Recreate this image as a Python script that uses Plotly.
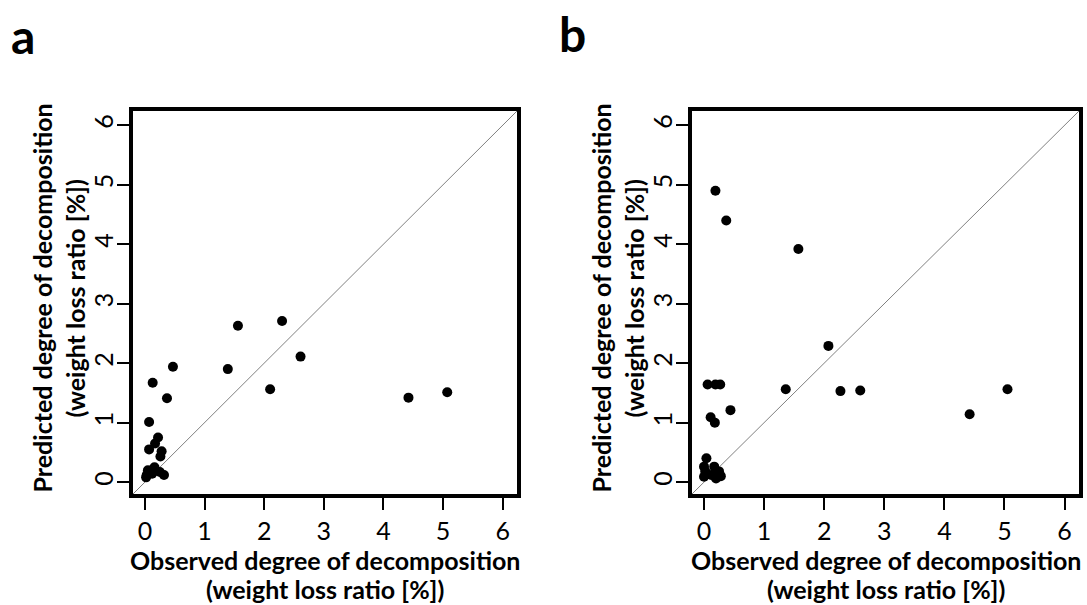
import plotly.graph_objects as go

# ---- data ----
obs_a = [1.56, 2.30, 1.39, 2.61, 2.10, 4.42, 5.07, 0.47, 0.13, 0.37, 0.07,
         0.22, 0.17, 0.07, 0.28, 0.26,
         0.03, 0.05, 0.16, 0.12, 0.25, 0.32, 0.02]
pred_a = [2.63, 2.71, 1.90, 2.11, 1.56, 1.42, 1.51, 1.94, 1.67, 1.41, 1.01,
          0.75, 0.65, 0.55, 0.52, 0.43,
          0.12, 0.20, 0.25, 0.14, 0.17, 0.12, 0.08]

obs_b = [0.19, 0.37, 1.57, 2.07, 2.27, 2.60, 4.42, 5.05, 1.36, 0.06, 0.19, 0.27,
         0.44, 0.11, 0.18, 0.04, 0.00, 0.17, 0.25, 0.00, 0.12, 0.28, 0.20, 0.02]
pred_b = [4.90, 4.40, 3.92, 2.29, 1.53, 1.54, 1.14, 1.56, 1.56, 1.64, 1.64, 1.64,
          1.21, 1.09, 1.00, 0.40, 0.26, 0.26, 0.18, 0.09, 0.12, 0.10, 0.06, 0.18]

tick_vals = [0, 1, 2, 3, 4, 5, 6]
axis_range = [-0.2, 6.24]

x_title = ["Observed degree of decomposition", "(weight loss ratio [%])"]
y_title = ["Predicted degree of decomposition", "(weight loss ratio [%])"]
panel_labels = ["a", "b"]

W, H = 1087, 605
FONT = "Lato"

fig = go.Figure()

for i, (ox, py) in enumerate([(obs_a, pred_a), (obs_b, pred_b)]):
    xa = "x" if i == 0 else "x2"
    ya = "y" if i == 0 else "y2"
    fig.add_trace(go.Scatter(x=axis_range, y=axis_range, mode="lines",
                             line=dict(color="#808080", width=1),
                             xaxis=xa, yaxis=ya, showlegend=False, hoverinfo="skip"))
    fig.add_trace(go.Scatter(x=ox, y=py, mode="markers",
                             marker=dict(color="black", size=10, line=dict(width=0)),
                             xaxis=xa, yaxis=ya, showlegend=False))

# pixel boxes of the two panels
boxes = [(133, 517), (692, 1079)]
top_px, bot_px = 111, 494

axis_common = dict(range=axis_range, tickvals=tick_vals, ticks="outside",
                   ticklen=12, tickwidth=2, tickcolor="black",
                   showline=True, linewidth=4, linecolor="black", mirror=True,
                   showgrid=False, zeroline=False,
                   tickfont=dict(family=FONT, size=25, color="black"))

ydom = [1 - bot_px / H, 1 - top_px / H]
layout = dict(width=W, height=H, margin=dict(l=0, r=0, t=0, b=0),
              plot_bgcolor="white", paper_bgcolor="white", showlegend=False)
for i, (l, r) in enumerate(boxes):
    sx = "" if i == 0 else "2"
    layout["xaxis" + sx] = dict(axis_common, domain=[l / W, r / W],
                                anchor="y" + sx)
    layout["yaxis" + sx] = dict(axis_common, domain=ydom, anchor="x" + sx,
                                tickangle=-90, ticklabelstandoff=-6)
fig.update_layout(**layout)

ann = []
tfont = dict(family=FONT, size=25, color="black")
for i, (l, r) in enumerate(boxes):
    cx = (l + r) / 2
    cy = (top_px + bot_px) / 2
    for txt, ypx in zip(x_title, [560, 589]):
        ann.append(dict(text="<b>%s</b>" % txt, x=cx / W, y=1 - ypx / H,
                        xref="paper", yref="paper", showarrow=False,
                        xanchor="center", yanchor="middle", font=tfont))
    for txt, xpx in zip(y_title, [l - 92, l - 59]):
        ann.append(dict(text="<b>%s</b>" % txt, x=xpx / W, y=1 - (cy - 4) / H,
                        xref="paper", yref="paper", showarrow=False,
                        xanchor="center", yanchor="middle", textangle=-90,
                        font=tfont))
for txt, (px, py) in zip(panel_labels, [(23, 36), (572, 33)]):
    ann.append(dict(text="<b>%s</b>" % txt, x=px / W, y=1 - py / H,
                    xref="paper", yref="paper", showarrow=False,
                    xanchor="center", yanchor="middle",
                    font=dict(family=FONT, size=48, color="black")))
fig.update_layout(annotations=ann)

fig.write_html("out.html", config={"displayModeBar": False},
               post_script="document.body.style.margin='0';document.body.style.overflow='hidden';")
